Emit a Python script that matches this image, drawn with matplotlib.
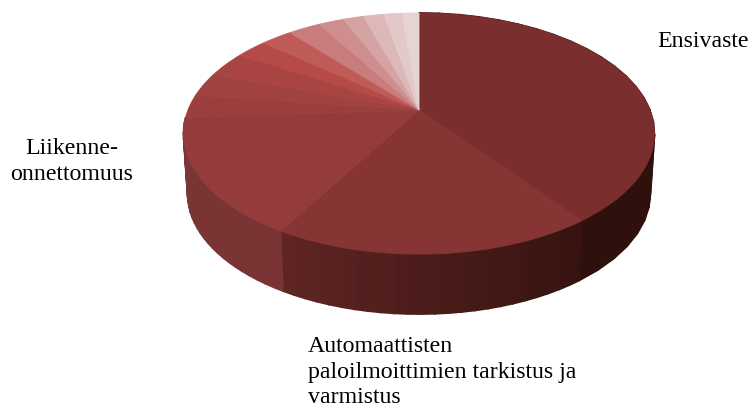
import numpy as np
import matplotlib
matplotlib.use("Agg")
import matplotlib.pyplot as plt
from matplotlib.colors import to_rgb
from matplotlib.path import Path
from matplotlib.transforms import Transform

plt.rcParams["font.family"] = ["Liberation Serif", "DejaVu Serif"]

# slice shares in percent, clockwise from 12 o'clock
values = [39.9, 18.4, 15.7, 3.1, 3.1, 3.5, 2.6, 2.6, 2.7, 2.1, 1.7, 1.7, 1.5, 1.4]
top_colors = [
    "#7b2e2e", "#873534", "#933c3b", "#9a3f3d", "#a04240", "#a84442", "#b54a47",
    "#c05c58", "#c87c7c", "#ce8e8e", "#d5a3a3", "#ddb8b8", "#e3c8c8", "#e6d3d3",
]
# side wall colours (start, end) going clockwise, for the slices that show a wall
side_colors = [("#33120f", "#2e100d"), ("#36130f", "#5f2524"), ("#783332", "#7a3635")]

CX, CY = 419, 110
A, B, K = 231, 116, 0.195
DEPTH = 60
A_BOTTOM = 227


class Tilt(Transform):
    input_dims = output_dims = 2
    has_inverse = False
    is_separable = False

    def transform_non_affine(self, xy):
        xy = np.asarray(xy)
        w = 1 + K * xy[:, 1]
        return np.column_stack([CX + A * xy[:, 0] / w, CY - B * xy[:, 1] / w])

    def transform_path_non_affine(self, path):
        return Path(self.transform_non_affine(path.vertices), path.codes)


def project(theta, a, shift):
    x, y = np.sin(theta), np.cos(theta)
    w = 1 + K * y
    return CX + a * x / w, CY + shift - B * y / w


fig = plt.figure(figsize=(7.48, 4.08), dpi=100)
ax = fig.add_axes([0, 0, 1, 1])

wedges, _ = ax.pie(values, colors=top_colors, startangle=90, counterclock=False)
ax.set_aspect("auto")
ax.set_xlim(0, 748)
ax.set_ylim(408, 0)
ax.axis("off")
tilt = Tilt()
for w, c in zip(wedges, top_colors):
    w.set_transform(tilt + ax.transData)
    w.set_edgecolor(c)
    w.set_linewidth(0.6)
    w.set_zorder(3)

# side wall, strips per slice
edges = np.radians(np.cumsum([0] + values) * 3.6)
for i, (c0, c1) in enumerate(side_colors):
    steps = 24
    t = np.linspace(edges[i], edges[i + 1], steps + 1)
    rgb0 = np.array(to_rgb(c0))
    rgb1 = np.array(to_rgb(c1))
    for j in range(steps):
        tx0, ty0 = project(t[j], A, 0)
        tx1, ty1 = project(t[j + 1], A, 0)
        bx0, by0 = project(t[j], A_BOTTOM, DEPTH)
        bx1, by1 = project(t[j + 1], A_BOTTOM, DEPTH)
        col = rgb0 + (rgb1 - rgb0) * j / (steps - 1)
        ax.fill([tx0, tx1, bx1, bx0], [ty0, ty1, by1, by0], color=col, lw=1.2, zorder=2)

ax.text(657, 47, "Ensivaste", fontsize=17.2, color="black", va="baseline", ha="left")
ax.text(71.5, 180, "Liikenne-\nonnettomuus", fontsize=17.2, color="black", va="baseline",
        ha="center", multialignment="center", linespacing=1.32)
ax.text(308, 403, "Automaattisten\npaloilmoittimien tarkistus ja\nvarmistus", fontsize=17.2,
        color="black", va="baseline", ha="left", linespacing=1.28)

fig.savefig("out.png", dpi=100)
